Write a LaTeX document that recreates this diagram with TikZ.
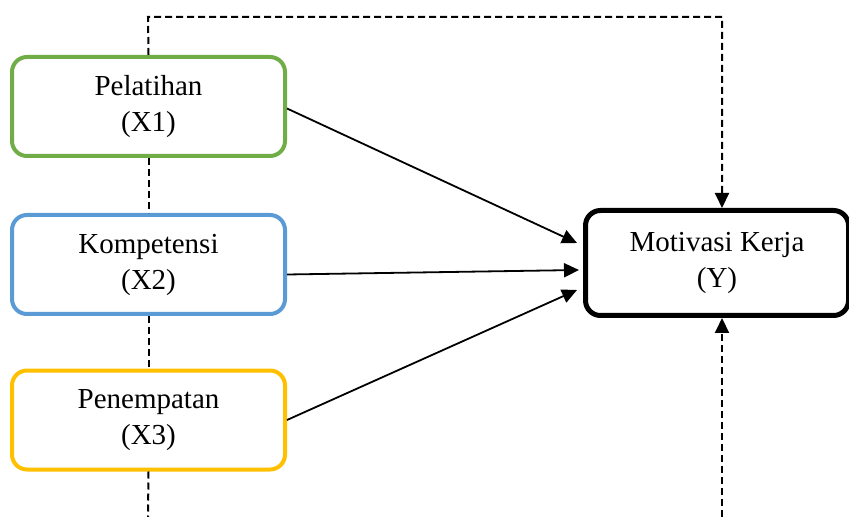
\documentclass[tikz,border=0pt]{standalone}
\usepackage{fontspec}
\setmainfont{Liberation Serif}
\usetikzlibrary{arrows.meta}
\definecolor{hijau}{HTML}{70AD47}
\definecolor{biru}{HTML}{5B9BD5}
\definecolor{kuning}{HTML}{FFC000}
\begin{document}
\begin{tikzpicture}[x=0.5pt, y=-0.5pt,
    varbox/.style={draw, fill=white, line width=2pt, rounded corners=7.5pt,
      minimum width=136.5pt, minimum height=49.5pt, inner sep=0pt,
      align=center, font=\fontsize{14.5}{18}\selectfont},
    arr/.style={line width=0.9pt, -{Triangle[length=7.5pt, width=7pt]}},
    dashline/.style={line width=1pt, dash pattern=on 3.5pt off 2pt}]
        \useasboundingbox (0,0) rectangle (849,517);

        % Variabel bebas
        \node[varbox, draw=hijau] (x1) at (148.5,106.5) {Pelatihan\\(X1)};
        \node[varbox, draw=biru] (x2) at (148.5,264.5) {Kompetensi\\(X2)};
        \node[varbox, draw=kuning] (x3) at (148.5,420) {Penempatan\\(X3)};

        % Variabel terikat
        \node[varbox, line width=2.5pt, minimum width=131.5pt, minimum height=52.5pt]
            (y) at (717,263) {Motivasi Kerja\\(Y)};

        % Pengaruh parsial
        \draw[arr] ([yshift=-1pt]x1.east) -- ([xshift=-3pt, yshift=10pt]y.west);
        \draw[arr] ([yshift=-5pt]x2.east) -- ([xshift=-2pt, yshift=-3.5pt]y.west);
        \draw[arr] (x3.east) -- ([xshift=-3pt, yshift=-13.5pt]y.west);

        % Pengaruh simultan (garis putus-putus)
        \coordinate (bawahkiri) at (148,517);
        \coordinate (bawahkanan) at (722,517);
        \draw[dashline] (x1.south) -- (x2.north);
        \draw[dashline] (x2.south) -- (x3.north);
        \draw[dashline] (x3.south) -- (bawahkiri);
        \draw[dashline, -{Triangle[length=7.5pt, width=7pt]}]
            (x1.north) -- (148,17) -- (722,17) -- ([xshift=2.5pt]y.north);
        \draw[dashline, -{Triangle[length=7.5pt, width=7pt]}]
            (bawahkanan) -- ([xshift=2.5pt]y.south);
    \end{tikzpicture}
\end{document}
